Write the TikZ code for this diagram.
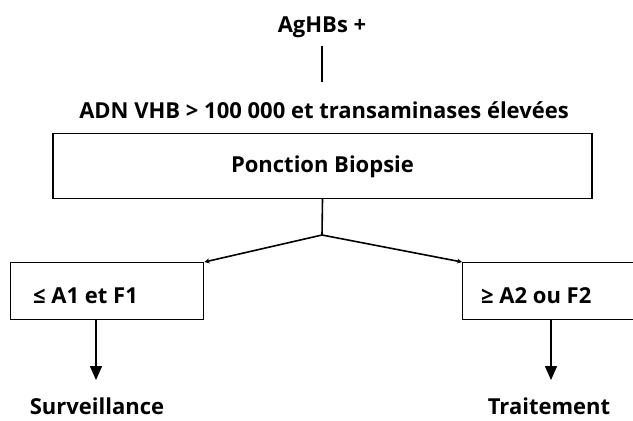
\documentclass[tikz,border=0pt]{standalone}
\usepackage{fontspec}
\setmainfont{Open Sans}
\usetikzlibrary{arrows.meta}
\begin{document}
\begin{tikzpicture}[x=1pt,y=-1pt,
  lbl/.style={font=\fontsize{22}{26}\selectfont\bfseries, inner sep=0pt},
  box/.style={draw, line width=1.4pt},
  conn/.style={line width=1.6pt},
  bigarrow/.style={conn, -{Triangle[length=14pt,width=12pt]}},
  smallarrow/.style={conn, -{Stealth[length=5pt,width=5pt]}}]
\clip (0,0) rectangle (633,421);
\fill[white] (0,0) rectangle (633,421);
\node[lbl] (ag) at (322,27) {AgHBs +};
\coordinate (l1a) at (322,46);
\coordinate (l1b) at (322,82);
\draw[conn] (l1a) -- (l1b);
\node[lbl] (adn) at (324,110) {ADN VHB > 100 000 et transaminases élevées};
\node[box, minimum width=539pt, minimum height=65pt] (pb) at (322.5,166) {};
\node[lbl] at (322.5,167) {Ponction Biopsie};
\coordinate (j) at (322,235);
\draw[conn] (pb.south) -- (j);
\node[box, minimum width=193pt, minimum height=57pt, anchor=north west] (lb) at (10,262) {};
\node[box, minimum width=200pt, minimum height=57pt, anchor=north west] (rb) at (462,262) {};
\node[lbl, anchor=west] (lt) at (33,296) {≤ A1 et F1};
\node[lbl, anchor=west] (rt) at (481,296) {≥ A2 ou F2};
\draw[smallarrow] (j) -- (lb.north east);
\draw[smallarrow] (j) -- (rb.north west);
\coordinate (la) at (96,318.5);
\coordinate (ra) at (551,318.5);
\node[lbl] (surv) at (97,406) {Surveillance};
\node[lbl] (trait) at (549,406) {Traitement};
\draw[bigarrow] (la) -- (96,380);
\draw[bigarrow] (ra) -- (551,380);
\end{tikzpicture}
\end{document}
